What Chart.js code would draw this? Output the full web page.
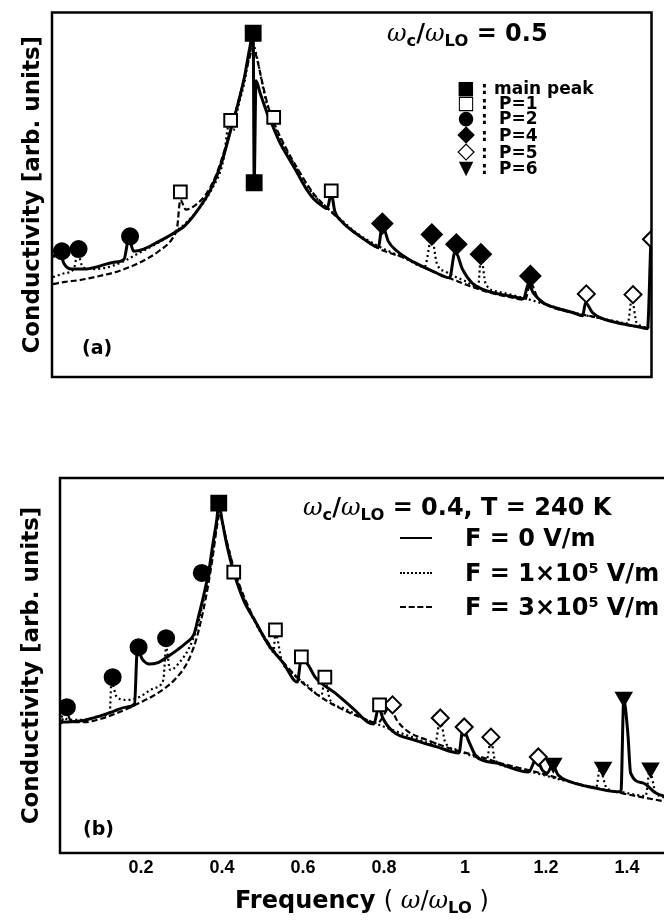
<!DOCTYPE html>
<html>
<head>
<meta charset="utf-8">
<script src="https://cdn.jsdelivr.net/npm/chart.js@4.4.1/dist/chart.umd.min.js"></script>
<style>
body { margin:0; background:#fff; width:664px; height:923px; overflow:hidden; position:relative;
       font-family:'DejaVu Sans', sans-serif; font-weight:bold; color:#000; }
#boxA { position:absolute; left:0; top:0; width:664px; height:390px; }
#boxB { position:absolute; left:0; top:440px; width:664px; height:483px; overflow:hidden; }
.txt { position:absolute; white-space:nowrap; line-height:1; }
.w { font-family:'DejaVu Serif', serif; font-style:italic; font-weight:normal; }
sub { font-size:0.68em; vertical-align:-0.3em; line-height:0; }
sup { font-size:0.6em; vertical-align:0.55em; line-height:0; }
.row { position:absolute; left:451px; font-size:17px; line-height:16px; height:16px; white-space:nowrap; }
.row .sym { display:inline-block; width:30px; text-align:center; font-size:19px; }
.row .big { font-size:23px; }
.row .col { display:inline-block; width:13px; }
.row .p { margin-left:5px; }
.smp { position:absolute; left:400px; width:32px; height:0; border-top:2px solid #000; }
</style>
</head>
<body>
<div id="boxA"><canvas id="chartA" width="664" height="390"></canvas></div>
<div id="boxB"><canvas id="chartB" width="680" height="483"></canvas></div>

<!-- panel (a) texts -->
<div class="txt" style="left:387px; top:21px; font-size:24px;"><span class="w">ω</span><sub>c</sub>/<span class="w">ω</span><sub>LO</sub> = 0.5</div>
<div class="row" style="top:79px;"><span class="sym">■</span><span class="col">:</span>main peak</div>
<div class="row" style="top:94px;"><span class="sym">□</span><span class="col">:</span><span class="p">P=1</span></div>
<div class="row" style="top:109px;"><span class="sym">●</span><span class="col">:</span><span class="p">P=2</span></div>
<div class="row" style="top:125px;"><span class="sym big">◆</span><span class="col">:</span><span class="p">P=4</span></div>
<div class="row" style="top:142px;"><span class="sym big">◇</span><span class="col">:</span><span class="p">P=5</span></div>
<div class="row" style="top:159px;"><span class="sym">▼</span><span class="col">:</span><span class="p">P=6</span></div>
<div class="txt" style="left:82px; top:338px; font-size:19px;">(a)</div>

<!-- panel (b) texts -->
<div class="txt" style="left:303px; top:495px; font-size:24px;"><span class="w">ω</span><sub>c</sub>/<span class="w">ω</span><sub>LO</sub> = 0.4, T = 240 K</div>
<div class="smp" style="top:537px;"></div>
<div class="smp" style="top:572px; border-top-style:dotted;"></div>
<div class="smp" style="top:606px; border-top-style:dashed;"></div>
<div class="txt" style="left:465px; top:526px; font-size:24px;">F = 0 V/m</div>
<div class="txt" style="left:465px; top:561px; font-size:24px;">F = 1×10<sup>5</sup> V/m</div>
<div class="txt" style="left:465px; top:595px; font-size:24px;">F = 3×10<sup>5</sup> V/m</div>
<div class="txt" style="left:83px; top:819px; font-size:19px;">(b)</div>
<div class="txt" style="left:235px; top:888px; font-size:24px;">Frequency <span style="font-weight:normal">( <span class="w">ω</span>/<span class="w">ω</span><sub style="font-weight:bold">LO</sub> )</span></div>

<script>
// ---- panel (a): omega_c/omega_LO = 0.5 ----
var aSolidX = [0.0025,0.020,0.029,0.049,0.081,0.118,0.154,0.179,0.191,0.203,0.228,0.257,0.294,0.331,0.363,0.395,0.422,0.444,0.463,0.478,0.490,0.500,0.5025,0.507,0.517,0.534,0.551,0.566,0.588,0.608,0.632,0.650,0.667,0.684,0.694,0.703,0.718,0.755,0.784,0.811,0.821,0.836,0.858,0.882,0.914,0.951,0.988,1.002,1.020,1.044,1.074,1.110,1.147,1.172,1.184,1.196,1.221,1.257,1.294,1.319,1.326,1.343,1.373,1.404,1.441,1.466,1.480,1.488];
var aSolidY = [32.9,34.2,31.3,29.6,29.6,30.4,31.5,32.3,38.0,34.5,35.1,36.7,38.9,41.6,45.9,51.6,59.0,67.7,75.3,82.1,89.4,94.3,53.5,81.3,78.0,72.6,68.2,64.4,60.1,56.3,51.6,48.9,47.3,46.2,50.3,45.4,42.9,39.4,37.2,35.6,41.6,37.2,34.5,32.6,30.7,28.8,27.2,34.5,29.6,25.8,23.9,22.8,22.0,21.5,25.5,23.1,20.4,18.8,17.7,16.8,20.4,17.7,15.8,14.9,14.1,13.6,13.3,35.9];
var aDotX = [0.0025,0.032,0.054,0.064,0.076,0.105,0.142,0.179,0.216,0.257,0.294,0.331,0.363,0.395,0.426,0.439,0.451,0.463,0.478,0.490,0.500,0.510,0.522,0.534,0.551,0.571,0.608,0.650,0.681,0.718,0.755,0.811,0.877,0.926,0.944,0.956,0.980,1.025,1.059,1.066,1.078,1.110,1.172,1.245,1.319,1.392,1.431,1.441,1.453,1.485];
var aDotY = [27.4,28.5,29.6,34.0,30.2,29.6,30.2,31.8,34.0,36.4,38.9,42.1,45.9,51.1,59.5,68.8,67.7,74.2,80.7,87.8,91.0,87.5,80.7,74.7,69.3,64.4,57.3,50.0,46.7,43.2,39.7,35.9,32.6,30.2,38.3,31.3,28.8,26.4,24.7,32.9,25.5,23.4,21.7,19.3,17.1,15.5,14.7,21.5,14.9,13.6];
var aDashX = [0.0025,0.032,0.069,0.118,0.167,0.216,0.265,0.301,0.311,0.319,0.333,0.358,0.382,0.407,0.431,0.456,0.475,0.490,0.500,0.510,0.525,0.539,0.559,0.583,0.608,0.650,0.681,0.718,0.755,0.811,0.877,0.934,1.000,1.074,1.147,1.176,1.189,1.208,1.233,1.282,1.343,1.417,1.485];
var aDashY = [25.5,26.1,26.6,27.7,29.1,31.3,34.5,38.3,41.0,48.6,45.9,47.3,50.0,55.2,63.0,72.6,80.7,87.2,90.5,87.0,79.6,73.6,67.9,62.5,57.6,50.3,46.7,42.9,39.4,35.3,32.6,29.6,26.6,23.6,21.7,21.2,25.8,21.5,19.6,17.9,16.6,14.7,13.0];
var aMainX = [0.500, 0.5025];
var aMainY = [94.3, 53.3];
var aP1X = [0.319, 0.444, 0.551, 0.694];
var aP1Y = [50.8, 70.4, 71.2, 51.1];
var aP2X = [0.0245, 0.066, 0.194];
var aP2Y = [34.5, 35.1, 38.6];
var aP4X = [0.821, 0.944, 1.005, 1.066, 1.189];
var aP4Y = [42.1, 39.1, 36.4, 33.7, 27.7];
var aP5X = [1.328, 1.444, 1.490];
var aP5Y = [22.8, 22.6, 37.8];

// ---- panel (b): omega_c/omega_LO = 0.4, T = 240 K ----
var bSolidX = [0.0025,0.049,0.098,0.135,0.164,0.184,0.191,0.203,0.221,0.240,0.265,0.289,0.311,0.331,0.343,0.355,0.368,0.377,0.387,0.392,0.400,0.412,0.429,0.453,0.483,0.515,0.551,0.586,0.596,0.613,0.630,0.679,0.728,0.760,0.775,0.787,0.797,0.821,0.875,0.931,0.985,0.995,1.010,1.029,1.078,1.157,1.176,1.191,1.203,1.216,1.230,1.255,1.287,1.321,1.360,1.385,1.392,1.402,1.409,1.439,1.471,1.500];
var bSolidY = [34.9,35.2,36.5,37.9,38.9,39.7,54.4,51.7,50.4,50.7,52.3,54.1,56.0,58.4,63.5,68.8,75.5,82.1,88.8,93.3,88.8,82.1,74.9,67.5,61.6,55.5,50.7,45.6,52.0,50.1,46.9,42.7,38.1,34.9,34.4,38.9,36.0,32.5,30.1,28.3,26.7,33.1,29.6,25.6,24.0,21.6,25.1,22.1,21.3,23.5,20.8,19.2,18.1,17.3,16.5,16.3,40.8,32.0,21.3,18.7,16.0,14.9];
var bDotX = [0.0025,0.025,0.061,0.098,0.123,0.127,0.140,0.164,0.196,0.233,0.255,0.262,0.272,0.294,0.319,0.338,0.355,0.368,0.380,0.390,0.395,0.402,0.417,0.434,0.458,0.485,0.510,0.527,0.532,0.547,0.576,0.613,0.645,0.654,0.667,0.699,0.748,0.809,0.870,0.926,0.939,0.951,0.980,1.017,1.054,1.064,1.074,1.115,1.176,1.250,1.324,1.333,1.350,1.385,1.422,1.446,1.456,1.471,1.500];
var bDotY = [36.5,35.5,35.5,36.5,37.6,45.6,41.6,40.8,41.6,44.0,46.1,54.7,48.8,50.7,54.7,60.0,67.5,74.1,82.1,90.1,91.5,87.5,80.8,74.1,66.9,60.8,56.3,53.6,58.7,51.5,47.7,44.5,41.9,46.1,40.8,38.7,36.0,33.3,30.9,29.1,35.5,29.6,27.5,25.9,25.1,30.1,24.8,22.9,21.3,19.2,17.6,22.4,17.3,16.3,15.5,15.2,21.9,16.0,14.7];
var bDashX = [0.0025,0.015,0.029,0.061,0.098,0.147,0.196,0.245,0.282,0.314,0.336,0.353,0.365,0.377,0.387,0.395,0.404,0.419,0.436,0.461,0.490,0.527,0.564,0.600,0.637,0.686,0.735,0.784,0.814,0.833,0.858,0.907,0.968,1.029,1.103,1.176,1.213,1.270,1.348,1.422,1.500];
var bDashY = [34.4,37.6,34.9,34.9,35.7,37.6,40.0,42.9,46.1,50.7,56.8,64.3,70.9,78.9,86.7,90.7,86.7,80.0,73.6,66.7,60.3,54.1,49.3,45.3,42.1,38.9,36.5,34.7,38.7,35.2,32.5,30.1,27.7,25.9,23.5,21.6,20.5,18.7,16.8,15.2,13.6];
var bMainX = [0.392];
var bMainY = [93.3];
var bP1X = [0.429, 0.532, 0.596, 0.654, 0.789];
var bP1Y = [74.9, 59.5, 52.3, 46.9, 39.5];
var bP2X = [0.017, 0.130, 0.194, 0.262, 0.350];
var bP2Y = [38.9, 46.9, 54.9, 57.3, 74.7];
var bP5X = [0.821, 0.939, 0.998, 1.064, 1.181];
var bP5Y = [39.5, 36.0, 33.6, 30.9, 25.6];
var bP6X = [1.218, 1.341, 1.392, 1.458];
var bP6Y = [24.0, 22.9, 41.6, 22.7];

var xTicks = [0.2, 0.4, 0.6, 0.8, 1, 1.2, 1.4];

function pts(xs, ys) {
  var out = [];
  for (var i = 0; i < xs.length; i++) out.push({x: xs[i], y: ys[i]});
  return out;
}

function curve(xs, ys, dash, w) {
  return { data: pts(xs, ys), showLine: true, borderColor: '#000', borderWidth: w,
           borderDash: dash, pointRadius: 0, cubicInterpolationMode: 'monotone', fill: false };
}

function marks(xs, ys, style, r, filled, rot) {
  return { data: pts(xs, ys), showLine: false, pointStyle: style, pointRadius: r,
           pointRotation: rot || 0, pointBackgroundColor: filled ? '#000' : '#fff',
           pointBorderColor: '#000', pointBorderWidth: 2 };
}

// box round the plot area
var frame = {
  id: 'frame',
  afterDatasetsDraw: function(chart) {
    var ctx = chart.ctx, c = chart.chartArea;
    ctx.save();
    ctx.lineWidth = 2.5;
    ctx.strokeStyle = '#000';
    ctx.strokeRect(c.left, c.top, c.right - c.left, c.bottom - c.top);
    ctx.restore();
  }
};

var yTitle = { display: true, text: 'Conductivity [arb. units]', color: '#000',
               font: { family: 'DejaVu Sans', size: 23, weight: 'bold' } };

new Chart(document.getElementById('chartA'), {
  type: 'scatter',
  data: { datasets: [
    marks(aMainX, aMainY, 'rect', 10.5, true),
    marks(aP1X, aP1Y, 'rect', 9, false),
    marks(aP2X, aP2Y, 'circle', 8, true),
    marks(aP4X, aP4Y, 'rectRot', 10, true),
    marks(aP5X, aP5Y, 'rectRot', 8.5, false),
    curve(aSolidX, aSolidY, [], 3),
    curve(aDotX, aDotY, [2, 3], 2.2),
    curve(aDashX, aDashY, [6, 3], 2.2)
  ]},
  options: {
    responsive: false, animation: false, events: [],
    layout: { padding: { top: 9, right: 4, left: 0, bottom: 0 } },
    plugins: { legend: { display: false }, tooltip: { enabled: false } },
    scales: {
      x: { type: 'linear', min: 0, max: 1.49, grid: { display: false, drawTicks: false },
           border: { display: false }, ticks: { display: false },
           afterFit: function(s) { s.height = 13; } },
      y: { min: 0, max: 100, grid: { display: false, drawTicks: false }, border: { display: false },
           ticks: { display: false },
           title: Object.assign({}, yTitle, { padding: { top: 19, bottom: 0 } }),
           afterFit: function(s) { s.width = 52; } }
    }
  },
  plugins: [frame]
});

new Chart(document.getElementById('chartB'), {
  type: 'scatter',
  data: { datasets: [
    marks(bMainX, bMainY, 'rect', 10.5, true),
    marks(bP1X, bP1Y, 'rect', 9, false),
    marks(bP2X, bP2Y, 'circle', 8, true),
    marks(bP5X, bP5Y, 'rectRot', 8.5, false),
    marks(bP6X, bP6Y, 'triangle', 8.7, true, 180),
    curve(bSolidX, bSolidY, [], 3),
    curve(bDotX, bDotY, [2, 3], 2.2),
    curve(bDashX, bDashY, [6, 3], 2.2)
  ]},
  options: {
    responsive: false, animation: false, events: [],
    layout: { padding: { top: 38, right: 8, left: 0, bottom: 0 } },
    plugins: { legend: { display: false }, tooltip: { enabled: false } },
    scales: {
      x: { type: 'linear', min: 0, max: 1.5, grid: { display: false, drawTicks: false },
           border: { display: false },
           afterBuildTicks: function(s) { s.ticks = xTicks.map(function(v) { return {value: v}; }); },
           ticks: { color: '#000', padding: 4, maxRotation: 0, autoSkip: false,
                    font: { family: 'Liberation Sans', size: 18, weight: 'bold' },
                    callback: function(v) { return String(v); } },
           afterFit: function(s) { s.height = 70; } },
      y: { min: 0, max: 100, grid: { display: false, drawTicks: false }, border: { display: false },
           ticks: { display: false },
           title: Object.assign({}, yTitle, { padding: { top: 18, bottom: 0 } }),
           afterFit: function(s) { s.width = 60; } }
    }
  },
  plugins: [frame]
});
</script>
</body>
</html>
